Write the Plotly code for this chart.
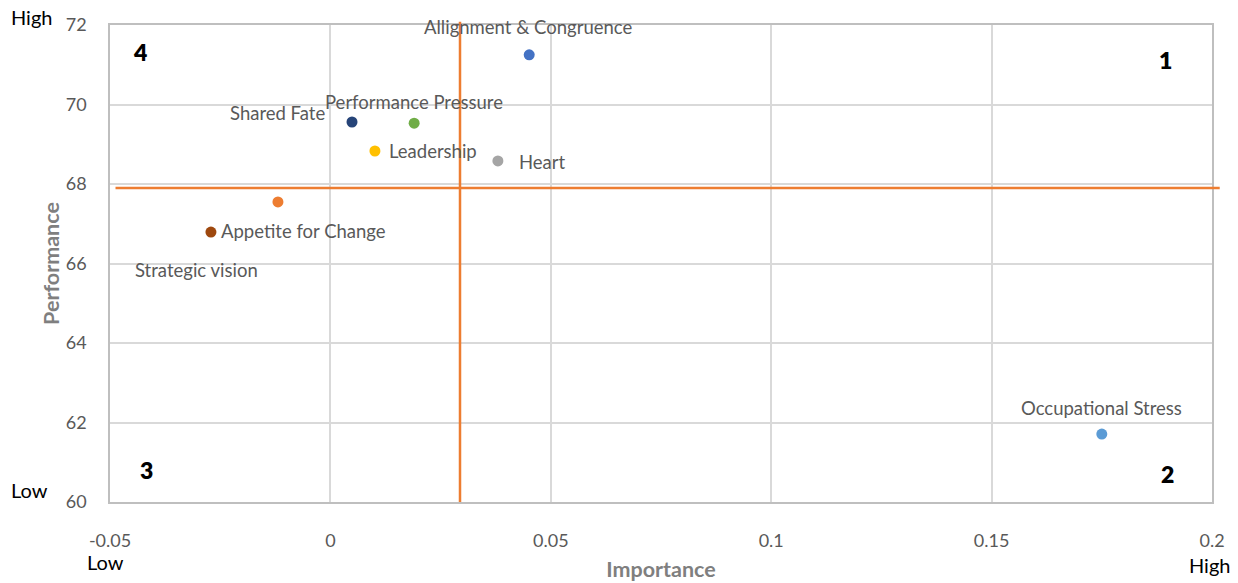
import plotly.graph_objects as go

names = ["Allignment & Congruence", "Shared Fate", "Performance Pressure", "Leadership",
         "Heart", "Strategic vision", "Appetite for Change", "Occupational Stress"]
importance = [0.0451, 0.0049, 0.019, 0.0101, 0.038, -0.0119, -0.0271, 0.175]
performance = [71.25, 69.56, 69.53, 68.83, 68.58, 67.55, 66.79, 61.71]
colors = ["#4472C4", "#264478", "#70AD47", "#FFC000", "#A5A5A5", "#ED7D31", "#9E480E", "#5B9BD5"]
# label offsets in pixels (dx, dy) relative to each point
label_dx = [-1, -75, 0, 58, 45, -81, 93, 0]
label_dy = [-28, -9, -21, 0, 1, 68, -1, -26]

x_threshold = 0.0294
y_threshold = 67.9

x_ticks = [-0.05, 0, 0.05, 0.1, 0.15, 0.2]
x_tick_text = ["-0.05", "0", "0.05", "0.1", "0.15", "0.2"]
y_ticks = [60, 62, 64, 66, 68, 70, 72]

FONT = "Lato, 'Open Sans', sans-serif"
TXT = "#595959"

fig = go.Figure()
for n, xv, yv, c in zip(names, importance, performance, colors):
    fig.add_trace(go.Scatter(x=[xv], y=[yv], mode="markers", name=n,
                             marker=dict(color=c, size=11, line=dict(width=0)),
                             showlegend=False))

for n, xv, yv, dx, dy in zip(names, importance, performance, label_dx, label_dy):
    fig.add_annotation(x=xv, y=yv, text=n, showarrow=True, arrowcolor="rgba(0,0,0,0)",
                       ax=dx, ay=dy, axref="pixel", ayref="pixel",
                       font=dict(family=FONT, size=18.5, color=TXT))

# threshold lines
fig.add_shape(type="line", xref="x", yref="paper", x0=x_threshold, x1=x_threshold,
              y0=0, y1=1.007, line=dict(color="#ED7D31", width=2.5), layer="above")
fig.add_shape(type="line", xref="paper", yref="y", x0=0.005, x1=1.007,
              y0=y_threshold, y1=y_threshold, line=dict(color="#ED7D31", width=2.5), layer="above")

# quadrant numbers
for t, px, py in [("4", 0.0272, 0.943), ("1", 0.958, 0.927), ("3", 0.0327, 0.067), ("2", 0.960, 0.059)]:
    fig.add_annotation(xref="paper", yref="paper", x=px, y=py, text=t,
                       xanchor="center", yanchor="middle", showarrow=False,
                       font=dict(family=FONT, size=23, color="#000000", weight=800))

# High / Low corner labels
for t, px, py in [("High", -0.0708, 1.017), ("Low", -0.0726, 0.025),
                  ("Low", -0.0045, -0.126), ("High", 0.998, -0.132)]:
    fig.add_annotation(xref="paper", yref="paper", x=px, y=py, text=t,
                       xanchor="center", yanchor="middle", showarrow=False,
                       font=dict(family=FONT, size=20, color="#000000"))

fig.update_layout(
    width=1238, height=583,
    margin=dict(l=110, r=26, t=25, b=81, autoexpand=False),
    plot_bgcolor="white", paper_bgcolor="white",
    font=dict(family=FONT, size=16, color=TXT),
    xaxis=dict(range=[-0.05, 0.2], tickvals=x_ticks, ticktext=x_tick_text,
               showgrid=True, gridcolor="#D9D9D9", gridwidth=1.5,
               showline=True, linecolor="#BFBFBF", linewidth=1.5, mirror=True,
               zeroline=False, ticks="outside", ticklen=22, tickcolor="rgba(0,0,0,0)",
               tickfont=dict(family=FONT, size=18, color=TXT), automargin=False,
               title=dict(text="Importance", font=dict(family=FONT, size=21.5, color="#7F7F7F", weight=700), standoff=12)),
    yaxis=dict(range=[60, 72], tickvals=y_ticks,
               showgrid=True, gridcolor="#D9D9D9", gridwidth=1.5,
               showline=True, linecolor="#BFBFBF", linewidth=1.5, mirror=True,
               zeroline=False, ticks="outside", ticklen=18, tickcolor="rgba(0,0,0,0)",
               tickfont=dict(family=FONT, size=18, color=TXT), automargin=False,
               title=dict(text="Performance", font=dict(family=FONT, size=21.5, color="#7F7F7F", weight=700), standoff=0)),
)

# remove the page's default 8px body margin so the figure sits at the window corner
fig.write_html("out.html", config={"displayModeBar": False},
               post_script="document.body.style.margin='0';document.body.style.overflow='hidden';")
